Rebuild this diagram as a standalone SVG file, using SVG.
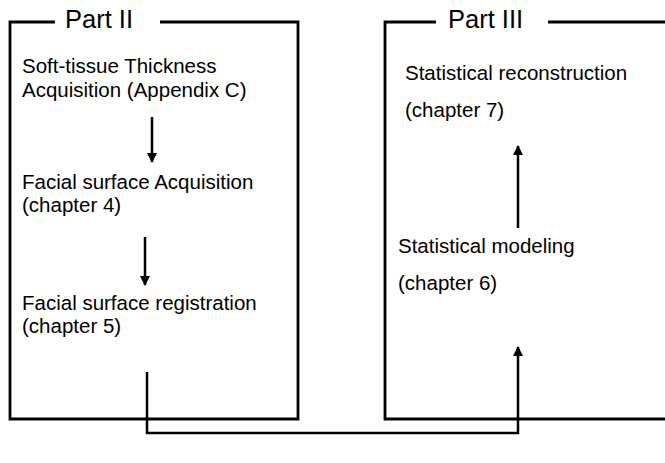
<svg xmlns="http://www.w3.org/2000/svg" width="665" height="463" viewBox="0 0 665 463">
<style>
.frame{fill:none;stroke:#000;stroke-width:2.8}
.t{font-family:"Liberation Sans",Arial,sans-serif;font-size:20.5px;fill:#000}
.h{font-family:"Liberation Sans",Arial,sans-serif;font-size:25.5px;fill:#000}
.c{fill:none;stroke:#000;stroke-width:2.5}
</style>
<defs>
<marker id="ah" viewBox="0 0 10 10" refX="9" refY="5" markerWidth="4" markerHeight="4" orient="auto" markerUnits="strokeWidth">
<path d="M0,0 L10,5 L0,10 z" fill="#000"/>
</marker>
</defs>
<rect width="665" height="463" fill="#fff"/>
<g id="part2">
<path class="frame" d="M55,22 H10 V419 H298 V22 H160"/>
<text class="h" x="65" y="28">Part II</text>
</g>
<g id="part3">
<path class="frame" d="M436,22 H385 V419 H667 M667,22 H548"/>
<text class="h" x="448" y="28">Part III</text>
</g>
<g id="n1"><text class="t" x="22" y="73">Soft-tissue Thickness</text><text class="t" x="22" y="97">Acquisition (Appendix C)</text></g>
<g id="n2"><text class="t" x="22" y="189">Facial surface Acquisition</text><text class="t" x="22" y="212">(chapter 4)</text></g>
<g id="n3"><text class="t" x="22" y="310">Facial surface registration</text><text class="t" x="22" y="333">(chapter 5)</text></g>
<g id="n4"><text class="t" x="405" y="80">Statistical reconstruction</text><text class="t" x="405" y="117">(chapter 7)</text></g>
<g id="n5"><text class="t" x="398" y="253">Statistical modeling</text><text class="t" x="398" y="290">(chapter 6)</text></g>
<g id="connectors">
<path class="c" d="M152,117 V162" marker-end="url(#ah)"/>
<path class="c" d="M145,237 V285" marker-end="url(#ah)"/>
<path class="c" d="M518,228 V146" marker-end="url(#ah)"/>
<path class="c" d="M147,372 V433 H518 V347" marker-end="url(#ah)"/>
</g>
</svg>
